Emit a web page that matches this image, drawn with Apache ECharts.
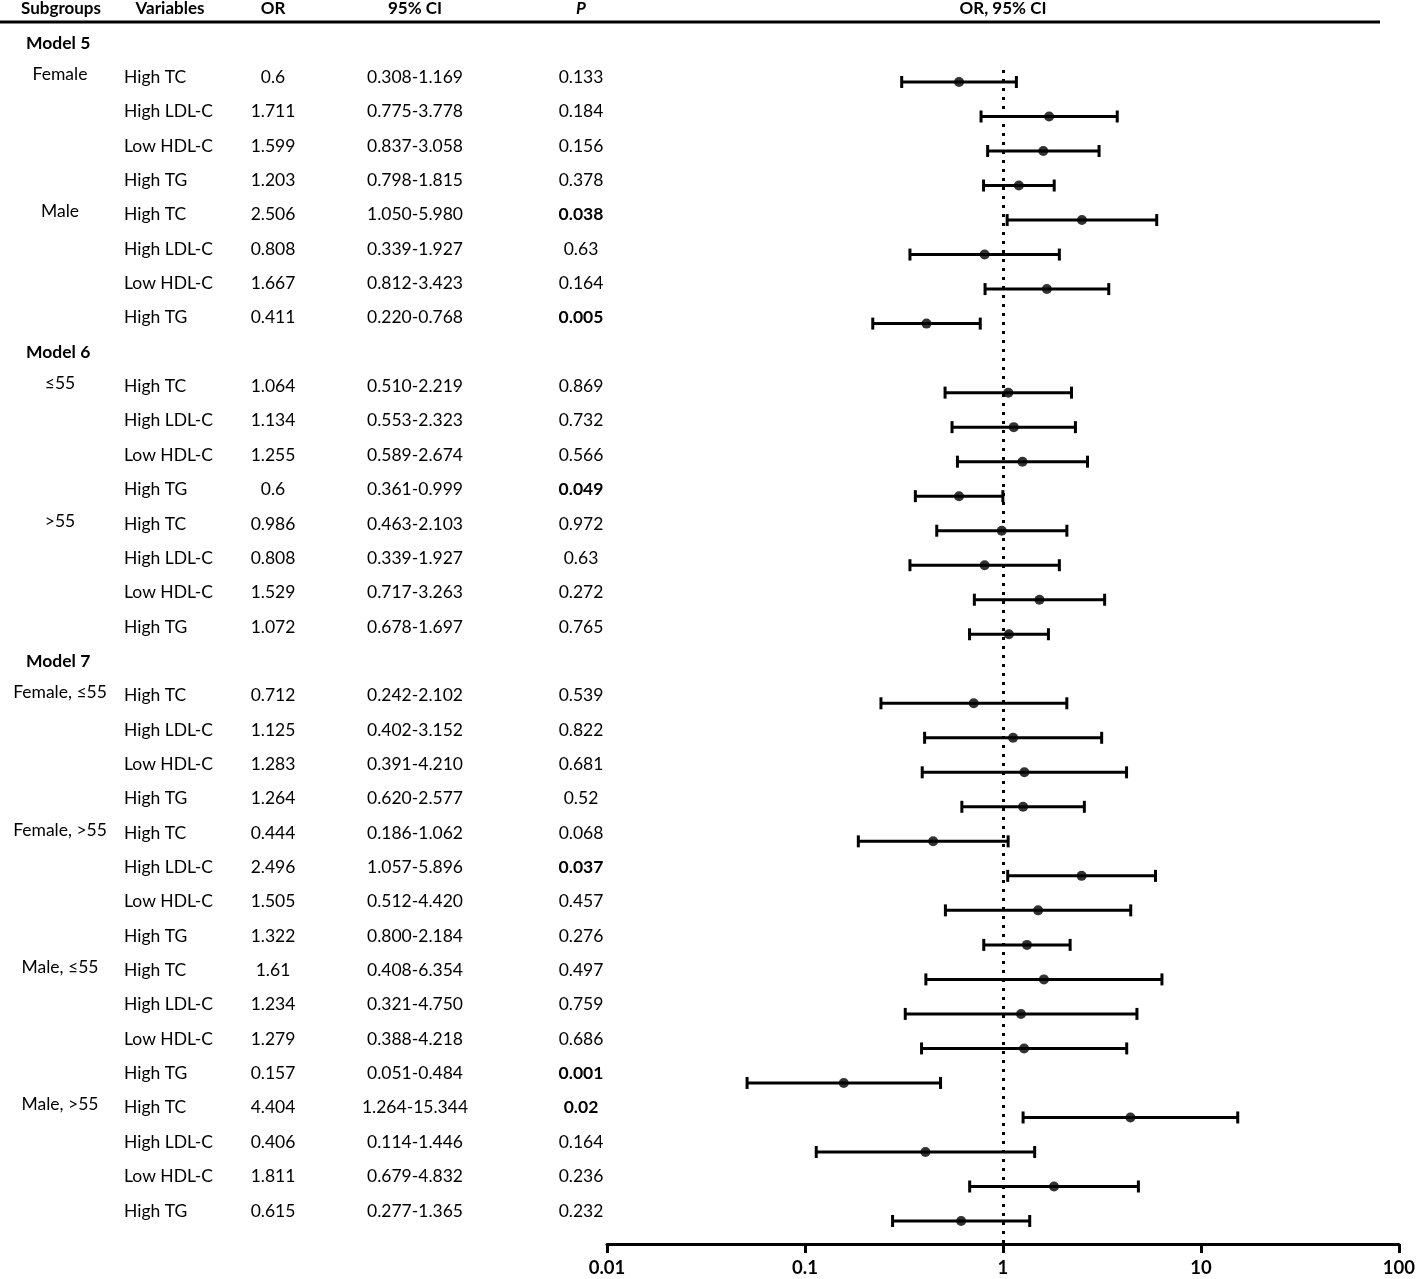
<!DOCTYPE html>
<html><head><meta charset="utf-8">
<script src="https://cdn.jsdelivr.net/npm/echarts@6/dist/echarts.min.js"></script>
<style>html,body{margin:0;padding:0;background:#fff}#c{width:1418px;height:1279px}</style>
</head><body><div id="c"></div><script>
const models = ["Model 5", "Model 6", "Model 7"];
const subgroups = [["Female", "Male"], ["≤55", ">55"], ["Female, ≤55", "Female, >55", "Male, ≤55", "Male, >55"]];
const variables = ["High TC", "High LDL-C", "Low HDL-C", "High TG"];
const orText = ["0.6","1.711","1.599","1.203","2.506","0.808","1.667","0.411",
  "1.064","1.134","1.255","0.6","0.986","0.808","1.529","1.072",
  "0.712","1.125","1.283","1.264","0.444","2.496","1.505","1.322",
  "1.61","1.234","1.279","0.157","4.404","0.406","1.811","0.615"];
const ciLow = ["0.308","0.775","0.837","0.798","1.050","0.339","0.812","0.220",
  "0.510","0.553","0.589","0.361","0.463","0.339","0.717","0.678",
  "0.242","0.402","0.391","0.620","0.186","1.057","0.512","0.800",
  "0.408","0.321","0.388","0.051","1.264","0.114","0.679","0.277"];
const ciHigh = ["1.169","3.778","3.058","1.815","5.980","1.927","3.423","0.768",
  "2.219","2.323","2.674","0.999","2.103","1.927","3.263","1.697",
  "2.102","3.152","4.210","2.577","1.062","5.896","4.420","2.184",
  "6.354","4.750","4.218","0.484","15.344","1.446","4.832","1.365"];
const pText = ["0.133","0.184","0.156","0.378","0.038","0.63","0.164","0.005",
  "0.869","0.732","0.566","0.049","0.972","0.63","0.272","0.765",
  "0.539","0.822","0.681","0.52","0.068","0.037","0.457","0.276",
  "0.497","0.759","0.686","0.001","0.02","0.164","0.236","0.232"];
const headers = ["Subgroups", "Variables", "OR", "95% CI", "P", "OR, 95% CI"];

// build rows
const rows = [];
let k = 0;
models.forEach((m, mi) => {
  rows.push({ type: 'model', label: m });
  subgroups[mi].forEach(s => {
    variables.forEach((v, vi) => {
      rows.push({ type: 'data', sub: vi === 0 ? s : '', variable: v, idx: k++ });
    });
  });
});

const FONT = 'Lato, "Open Sans", sans-serif';
const cols = {
  model: { x: 26, align: 'left', dy: 0 },
  sub: { x: 60, align: 'center', dy: -3 },
  variable: { x: 124, align: 'left', dy: 0 },
  or: { x: 273, align: 'center', dy: 0 },
  ci: { x: 415, align: 'center', dy: 0 },
  p: { x: 581, align: 'center', dy: 0 },
  hSub: { x: 61, align: 'center', dy: 0 },
  hVar: { x: 170, align: 'center', dy: 0 },
  hPlot: { x: 1003, align: 'center', dy: 0 }
};
const cells = [];
const hdrCols = ['hSub', 'hVar', 'or', 'ci', 'p', 'hPlot'];
headers.forEach((h, i) => cells.push({ col: hdrCols[i], row: -1, text: h, bold: true, italic: h === 'P', size: 17 }));
const bars = [];
const dots = [];
rows.forEach((r, ri) => {
  if (r.type === 'model') {
    cells.push({ col: 'model', row: ri, text: r.label, bold: true });
  } else {
    const i = r.idx;
    if (r.sub) cells.push({ col: 'sub', row: ri, text: r.sub });
    cells.push({ col: 'variable', row: ri, text: r.variable });
    cells.push({ col: 'or', row: ri, text: orText[i] });
    cells.push({ col: 'ci', row: ri, text: ciLow[i] + '-' + ciHigh[i] });
    cells.push({ col: 'p', row: ri, text: pText[i], bold: parseFloat(pText[i]) < 0.05 });
    bars.push([parseFloat(ciLow[i]), parseFloat(ciHigh[i]), ri]);
    dots.push([parseFloat(orText[i]), ri]);
  }
});
const lastRow = rows.length - 1;
const firstData = 1;

const chart = echarts.init(document.getElementById('c'), null, { renderer: 'canvas' });
chart.setOption({
  animation: false,
  backgroundColor: '#fff',
  grid: [
    { left: 0, right: 0, top: 43, height: 34.35 * lastRow },
    { left: 607, right: 19, top: 22, bottom: 35 }
  ],
  xAxis: [
    { gridIndex: 0, type: 'value', min: 0, max: 1418, show: false },
    {
      gridIndex: 1, type: 'log', logBase: 10, min: 0.01, max: 100,
      axisLine: { show: true, onZero: false, lineStyle: { color: '#000', width: 3 } },
      axisTick: { show: true, inside: false, length: 9, lineStyle: { color: '#000', width: 3 } },
      minorTick: { show: false },
      splitLine: { show: false },
      axisLabel: {
        color: '#000', fontFamily: FONT, fontWeight: 'bold', fontSize: 18.5, margin: 15,
        formatter: v => String(+Number(v).toPrecision(6))
      }
    }
  ],
  yAxis: [
    { gridIndex: 0, type: 'value', min: 0, max: lastRow, inverse: true, show: false },
    { gridIndex: 1, type: 'value', min: -0.738, max: lastRow + 0.666, inverse: true, show: false }
  ],
  series: [
    {
      type: 'custom', xAxisIndex: 0, yAxisIndex: 0, silent: true,
      data: cells.map((c, i) => [cols[c.col].x, c.row, i]),
      renderItem: (params, api) => {
        const c = cells[params.dataIndex];
        const spec = cols[c.col];
        const pt = api.coord([spec.x, c.row]);
        return {
          type: 'text', x: pt[0], y: pt[1] + spec.dy,
          style: {
            text: c.text, fill: '#000', fontFamily: FONT, fontSize: c.size || 17.5,
            fontWeight: c.bold ? 'bold' : 'normal', fontStyle: c.italic ? 'italic' : 'normal',
            align: spec.align, verticalAlign: 'middle'
          }
        };
      }
    },
    {
      type: 'custom', xAxisIndex: 1, yAxisIndex: 1, silent: true,
      encode: { x: [0, 1], y: 2 },
      data: bars,
      renderItem: (params, api) => {
        const a = api.coord([api.value(0), api.value(2)]);
        const b = api.coord([api.value(1), api.value(2)]);
        const h = 6;
        const st = { stroke: '#000', lineWidth: 3 };
        return {
          type: 'group', children: [
            { type: 'line', shape: { x1: a[0], y1: a[1], x2: b[0], y2: b[1] }, style: st },
            { type: 'line', shape: { x1: a[0], y1: a[1] - h, x2: a[0], y2: a[1] + h }, style: st },
            { type: 'line', shape: { x1: b[0], y1: b[1] - h, x2: b[0], y2: b[1] + h }, style: st }
          ]
        };
      },
      markLine: {
        silent: true, symbol: 'none', label: { show: false },
        lineStyle: { color: '#000', width: 3, type: [3, 6], cap: 'butt' },
        data: [[{ coord: [1, firstData - 0.35] }, { coord: [1, lastRow + 0.666] }]]
      }
    },
    {
      type: 'scatter', xAxisIndex: 1, yAxisIndex: 1, silent: true,
      symbol: 'circle', symbolSize: 10, itemStyle: { color: '#000' },
      data: dots, z: 5
    }
  ],
  graphic: [
    { type: 'line', shape: { x1: 0, y1: 22, x2: 1380, y2: 22 }, style: { stroke: '#000', lineWidth: 3 } }
  ]
});
</script></body></html>
